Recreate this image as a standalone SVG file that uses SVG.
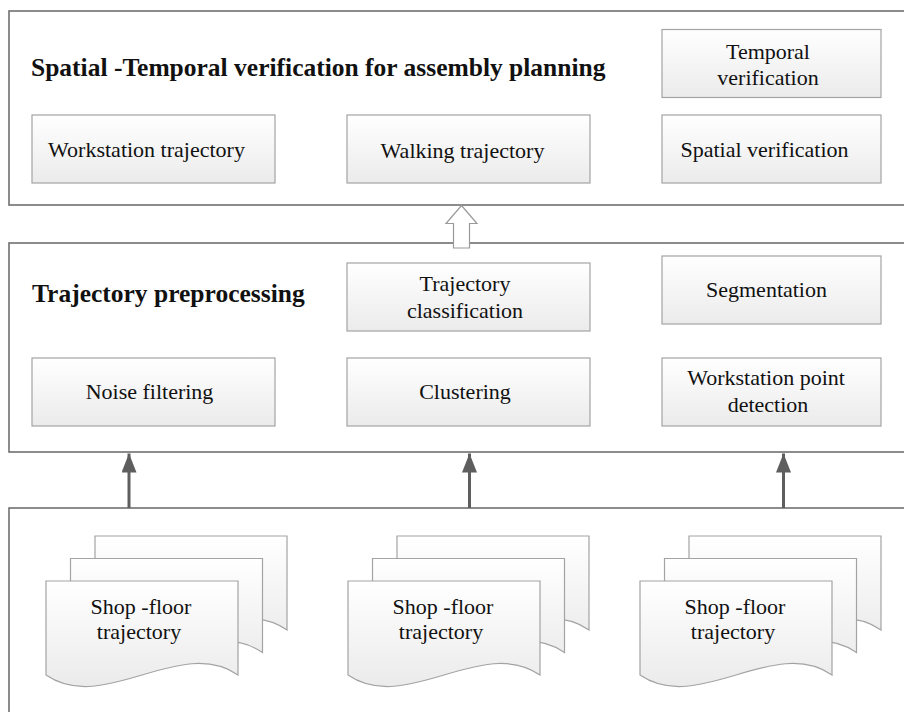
<svg xmlns="http://www.w3.org/2000/svg" xmlns:xlink="http://www.w3.org/1999/xlink" width="904" height="712" viewBox="0 0 904 712">
<style>
.cont{fill:#ffffff;stroke:#707070;stroke-width:1.6}
.box{fill:url(#g);stroke:#a3a3a3;stroke-width:1.2}
.doc{fill:url(#g);stroke:#a3a3a3;stroke-width:1.2}
.t{font-family:"Liberation Serif","Times New Roman",serif;font-size:22px;fill:#111;text-anchor:middle}
.h{font-family:"Liberation Serif","Times New Roman",serif;font-size:25.5px;font-weight:bold;fill:#111}
.arr{stroke:#5e5e5e;stroke-width:3;fill:none}
</style>
<defs>
<linearGradient id="g" x1="0" y1="0" x2="0" y2="1">
<stop offset="0" stop-color="#ffffff"/>
<stop offset="1" stop-color="#ebebeb"/>
</linearGradient>
<marker id="ah" markerUnits="userSpaceOnUse" markerWidth="20" markerHeight="16" refX="19" refY="7.5" orient="auto">
<path d="M0,0 L19,7.5 L0,15 Z" fill="#5e5e5e"/>
</marker>
<path id="docshape" d="M0,0 H192 V94 C134,54 58,134 0,94 Z"/>
</defs>

<g id="layer-verification">
<rect class="cont" x="9" y="11" width="1000" height="194"/>
<text class="h" x="31" y="76">Spatial -Temporal verification for assembly planning</text>
</g>
<g id="layer-preprocessing">
<rect class="cont" x="9" y="243" width="1000" height="209"/>
<text class="h" x="32" y="302">Trajectory preprocessing</text>
</g>
<g id="layer-data">
<rect class="cont" x="9" y="508" width="1000" height="300"/>
</g>

<g id="n-workstation-trajectory">
<rect class="box" x="32" y="115" width="243" height="68"/>
<text class="t" x="146.5" y="157">Workstation trajectory</text>
</g>
<g id="n-walking-trajectory">
<rect class="box" x="347" y="115" width="243" height="68"/>
<text class="t" x="462.5" y="158">Walking trajectory</text>
</g>
<g id="n-temporal-verification">
<rect class="box" x="662" y="29.5" width="219" height="68"/>
<text class="t" x="768" y="59">Temporal</text>
<text class="t" x="768" y="85">verification</text>
</g>
<g id="n-spatial-verification">
<rect class="box" x="662" y="115" width="219" height="68"/>
<text class="t" x="764.5" y="157">Spatial verification</text>
</g>

<g id="n-trajectory-classification">
<rect class="box" x="347" y="263" width="243" height="68"/>
<text class="t" x="465" y="291">Trajectory</text>
<text class="t" x="465" y="318">classification</text>
</g>
<g id="n-segmentation">
<rect class="box" x="662" y="256" width="219" height="68"/>
<text class="t" x="766.5" y="297">Segmentation</text>
</g>
<g id="n-noise-filtering">
<rect class="box" x="32" y="358" width="243" height="68"/>
<text class="t" x="149.5" y="399">Noise filtering</text>
</g>
<g id="n-clustering">
<rect class="box" x="347" y="358" width="243" height="68"/>
<text class="t" x="465" y="399">Clustering</text>
</g>
<g id="n-workstation-point-detection">
<rect class="box" x="662" y="358" width="219" height="68"/>
<text class="t" x="766" y="385">Workstation point</text>
<text class="t" x="768" y="412">detection</text>
</g>

<g id="n-trajectory-docs-1">
<use xlink:href="#docshape" class="doc" x="95" y="536"/>
<use xlink:href="#docshape" class="doc" x="70.5" y="558.5"/>
<use xlink:href="#docshape" class="doc" x="46" y="581"/>
<text class="t" x="141" y="614">Shop -floor</text>
<text class="t" x="139" y="639">trajectory</text>
</g>
<g id="n-trajectory-docs-2">
<use xlink:href="#docshape" class="doc" x="397" y="536"/>
<use xlink:href="#docshape" class="doc" x="372.5" y="558.5"/>
<use xlink:href="#docshape" class="doc" x="348" y="581"/>
<text class="t" x="443" y="614">Shop -floor</text>
<text class="t" x="441" y="639">trajectory</text>
</g>
<g id="n-trajectory-docs-3">
<use xlink:href="#docshape" class="doc" x="689" y="536"/>
<use xlink:href="#docshape" class="doc" x="664.5" y="558.5"/>
<use xlink:href="#docshape" class="doc" x="640" y="581"/>
<text class="t" x="735" y="614">Shop -floor</text>
<text class="t" x="733" y="639">trajectory</text>
</g>

<g id="connectors">
<path d="M461.5,205.5 L477,223.5 L469.5,223.5 L469.5,248 L453.5,248 L453.5,223.5 L446,223.5 Z" fill="#ffffff" stroke="#9a9a9a" stroke-width="1.2"/>
<line class="arr" x1="129" y1="508" x2="129" y2="453.5" marker-end="url(#ah)"/>
<line class="arr" x1="469.5" y1="508" x2="469.5" y2="453.5" marker-end="url(#ah)"/>
<line class="arr" x1="783.5" y1="508" x2="783.5" y2="453.5" marker-end="url(#ah)"/>
</g>
</svg>
